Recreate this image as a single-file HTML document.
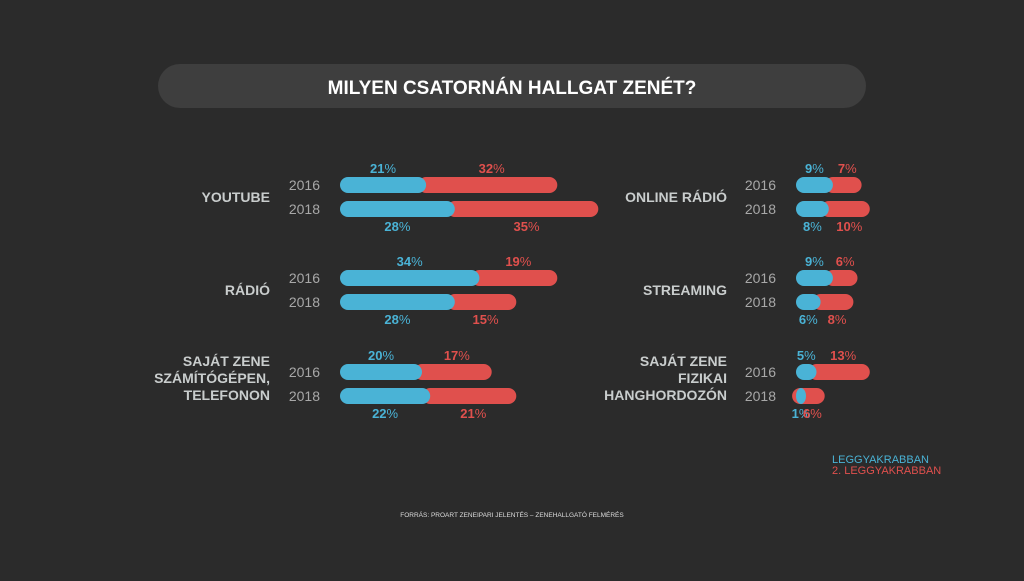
<!DOCTYPE html>
<html><head><meta charset="utf-8"><style>
body{margin:0;background:#2b2b2b;}
svg text{font-family:"Liberation Sans",sans-serif;}
</style></head><body>
<svg width="1024" height="576" viewBox="0 0 1024 576">
<rect width="1024" height="576" fill="#2b2b2b"/>
<rect x="158" y="64" width="708" height="44" rx="22" fill="#3e3e3e"/>
<text x="512" y="94" text-anchor="middle" fill="#fff" font-size="19" font-weight="bold">MILYEN CSATORNÁN HALLGAT ZENÉT?</text>
<g id="bars"></g>
<text x="832" y="463" fill="#4ab3d6" font-size="11">LEGGYAKRABBAN</text>
<text x="832" y="474" fill="#e0504d" font-size="11">2. LEGGYAKRABBAN</text>
<text x="512" y="517" text-anchor="middle" fill="#ddd" font-size="6.5">FORRÁS: PROART ZENEIPARI JELENTÉS – ZENEHALLGATÓ FELMÉRÉS</text>
</svg>
<script>
const categories=["YOUTUBE","RÁDIÓ","SAJÁT ZENE|SZÁMÍTÓGÉPEN,|TELEFONON","ONLINE RÁDIÓ","STREAMING","SAJÁT ZENE|FIZIKAI|HANGHORDOZÓN"];
const years=["2016","2018"];
const first2016=[21,34,20,9,9,5];
const second2016=[32,19,17,7,6,13];
const first2018=[28,28,22,8,6,1];
const second2018=[35,15,21,10,8,6];
const NS="http://www.w3.org/2000/svg";
const g=document.getElementById('bars');
const S=4.1, BLUE="#4ab3d6", RED="#e0504d";
function mk(t,a){const e=document.createElementNS(NS,t);for(const k in a)e.setAttribute(k,a[k]);g.appendChild(e);return e;}
function txt(x,y,val,col,name){const t=mk('text',{x:x,y:y,'text-anchor':'middle','font-size':13,fill:col});


const b=document.createElementNS(NS,'tspan');b.setAttribute('font-weight','bold');b.textContent=val;t.appendChild(b);
const p=document.createElementNS(NS,'tspan');p.textContent='%';t.appendChild(p);}
categories.forEach((c,i)=>{
 const col=i<3?0:1, row=i%3;
 const x0=col?796:340, yc=[185,278,372][row];
 const lx=col?727:270;
 const lines=c.split('|');
 const ly=yc+12-(lines.length-1)*11.5+5;
 lines.forEach((l,j)=>{const t=mk('text',{x:lx,y:ly+j*17,'text-anchor':'end','font-size':14,'font-weight':'bold',fill:'#c9cdcd'});
  
  
  t.textContent=l;});
 [[first2016[i],second2016[i]],[first2018[i],second2018[i]]].forEach((v,k)=>{
  const y=yc+k*24;
  const yr=mk('text',{x:x0-20,y:y+5,'text-anchor':'end','font-size':14,fill:'#a8a8a8'});
  
  
  yr.textContent=years[k];
  const bw=v[0]*S, rw=v[1]*S;
  const r=mk('rect',{x:x0+bw-8,y:y-8,width:rw+8,height:16,rx:8,fill:RED});
  
  
  const b=mk('rect',{x:x0,y:y-8,width:Math.max(bw,10),height:16,rx:8,fill:BLUE});
  
  
  const ty=k?y+22:y-12;
  txt(x0+Math.max(bw,10)/2,ty,v[0],BLUE,'value-first');
  txt(x0+bw+rw/2,ty,v[1],RED,'value-second');
 });
});
</script>
</body></html>
